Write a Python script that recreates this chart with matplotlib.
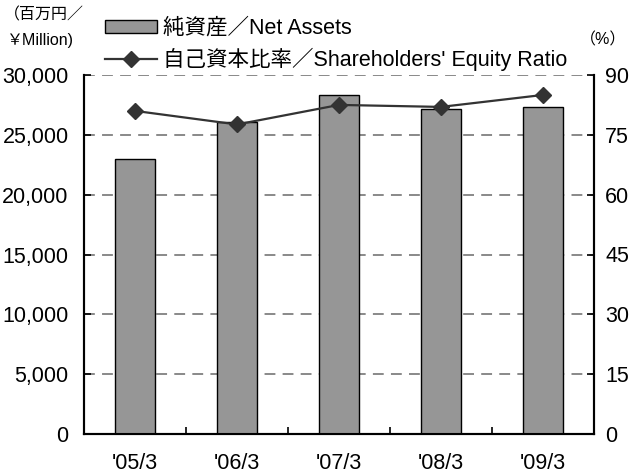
import matplotlib
matplotlib.use("Agg")
import matplotlib.pyplot as plt
import numpy as np
from matplotlib.ticker import FuncFormatter, FixedLocator

plt.rcParams['font.family'] = ['Liberation Sans', 'Noto Sans CJK JP', 'DejaVu Sans']

categories = ["'05/3", "'06/3", "'07/3", "'08/3", "'09/3"]
net_assets = [23000, 26100, 28350, 27180, 27340]
equity_ratio = [81.0, 77.6, 82.5, 82.0, 85.0]
left_ticks = [0, 5000, 10000, 15000, 20000, 25000, 30000]
right_ticks = [0, 15, 30, 45, 60, 75, 90]

label_bar = "純資産／Net Assets"
label_line = "自己資本比率／Shareholders' Equity Ratio"
unit_left_1 = "（百万円／"
unit_left_2 = "￥Million)"
unit_right = "（%）"

fig = plt.figure(figsize=(6.36, 4.76), dpi=100)
ax = fig.add_axes([84/636, 1-434/476, 510/636, 359/476])
ax2 = ax.twinx()

x = np.arange(len(categories))
bars = ax.bar(x, net_assets, width=0.39, color='#969696', edgecolor='black',
              linewidth=1.0, zorder=3, label=label_bar)
line, = ax2.plot(x, equity_ratio, color='#333333', linewidth=1.6, marker='D',
                 markersize=8, markerfacecolor='#333333', markeredgecolor='#333333',
                 zorder=4, label=label_line)

ax.set_xlim(-0.5, len(categories)-0.5)
ax.set_ylim(0, 30000)
ax2.set_ylim(0, 90)
ax.yaxis.set_major_locator(FixedLocator(left_ticks))
ax2.yaxis.set_major_locator(FixedLocator(right_ticks))
ax.yaxis.set_major_formatter(FuncFormatter(lambda v, p: f"{int(v):,}"))
ax2.yaxis.set_major_formatter(FuncFormatter(lambda v, p: f"{int(v)}"))

# gridlines (dashed) at 5000..30000
for v in left_ticks[1:]:
    ax.axhline(v, color='#808080', linewidth=1.3, linestyle=(0, (6, 4)), zorder=1)

ax.set_xticks(x)
ax.set_xticklabels(categories)
ax.set_xticks(np.arange(len(categories)-1)+0.5, minor=True)
ax.tick_params(axis='x', which='major', length=0, pad=14, labelsize=15.5)
ax.tick_params(axis='x', which='minor', direction='in', length=5, width=1.2)
ax.tick_params(axis='y', direction='in', length=5, width=1.2, pad=11, labelsize=15.5)
ax2.tick_params(axis='y', direction='in', length=5, width=1.2, pad=8, labelsize=15.5)

for a in (ax, ax2):
    a.spines['top'].set_visible(False)
    for s in ('left', 'right', 'bottom'):
        a.spines[s].set_linewidth(1.5)
        a.spines[s].set_color('black')
ax.set_zorder(ax2.get_zorder() - 1)
ax.patch.set_visible(True)
ax2.patch.set_visible(False)

fig.legend(handles=[bars, line], labels=[label_bar, label_line],
           loc='upper left', bbox_to_anchor=(105/636, 1-18/476), frameon=False,
           fontsize=15.5, handlelength=2.42, handletextpad=0.28, labelspacing=0.4,
           handleheight=0.55, borderaxespad=0, borderpad=0)

fig.text(4/636, 1-15/476, unit_left_1, fontsize=11.5, ha='left', va='center')
fig.text(6/636, 1-41/476, unit_left_2, fontsize=11.5, ha='left', va='center')
fig.text(580/636, 1-40/476, unit_right, fontsize=11.5, ha='left', va='center')

fig.savefig("out.png", dpi=100)
